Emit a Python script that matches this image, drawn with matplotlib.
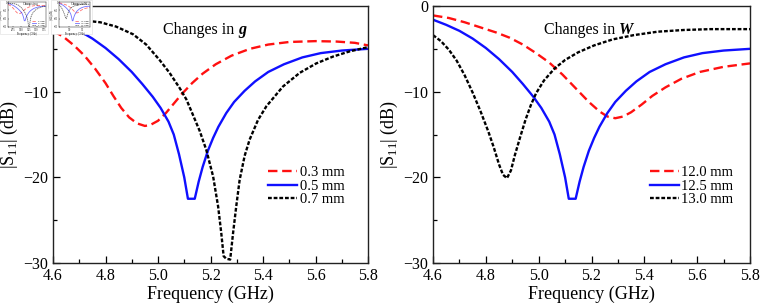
import matplotlib
matplotlib.use("Agg")
import matplotlib.pyplot as plt
from matplotlib.ticker import MultipleLocator
from matplotlib.patches import Rectangle

plt.rcParams['font.family'] = ['Liberation Serif', 'DejaVu Serif']
plt.rcParams['mathtext.fontset'] = 'custom'
plt.rcParams['mathtext.rm'] = 'Liberation Serif'

# ---- data ----
# left panel: changes in g
g_red_f = [4.60, 4.64, 4.68, 4.72, 4.76, 4.80, 4.83, 4.86, 4.89, 4.92, 4.95, 4.97, 5.00,
           5.03, 5.06, 5.09, 5.13, 5.17, 5.22, 5.28, 5.35, 5.42, 5.50, 5.60, 5.68, 5.75, 5.80]
g_red_s = [-2.9, -3.6, -4.6, -5.8, -7.3, -9.0, -10.5, -11.9, -13.0, -13.7, -14.0, -13.9, -13.4,
           -12.5, -11.4, -10.3, -9.0, -7.9, -6.8, -5.8, -5.0, -4.5, -4.2, -4.1, -4.15, -4.3, -4.6]

blue_f = [4.60, 4.65, 4.70, 4.75, 4.80, 4.85, 4.90, 4.94, 4.98, 5.01, 5.04, 5.06, 5.08, 5.10,
          5.114, 5.14, 5.155, 5.17, 5.19, 5.21, 5.23, 5.26, 5.29, 5.33, 5.37, 5.42, 5.48,
          5.55, 5.62, 5.70, 5.80]
blue_s = [-1.6, -2.2, -2.9, -3.8, -4.9, -6.2, -7.7, -9.1, -10.6, -11.9, -13.5, -15.0, -17.3, -20.0,
          -22.5, -22.5, -20.5, -18.8, -16.9, -15.4, -14.1, -12.5, -11.2, -9.9, -8.8, -7.7, -6.8,
          -6.0, -5.5, -5.2, -5.0]

g_blk_f = [4.60, 4.66, 4.72, 4.78, 4.84, 4.905, 4.955, 5.006, 5.044, 5.083, 5.108, 5.133,
           5.159, 5.184, 5.21, 5.229, 5.241, 5.25, 5.26, 5.275, 5.286, 5.298, 5.311, 5.33,
           5.349, 5.381, 5.413, 5.476, 5.54, 5.603, 5.667, 5.73, 5.80]
g_blk_s = [-1.5, -1.6, -1.7, -1.9, -2.4, -3.3, -4.5, -6.3, -7.8, -9.6, -10.9, -12.7,
           -14.6, -16.8, -19.9, -23.4, -26.5, -29.2, -29.5, -29.6, -26.5, -23.4, -20.3, -17.5,
           -15.6, -13.3, -11.7, -9.4, -7.8, -6.7, -5.9, -5.3, -4.8]

# right panel: changes in W
w_red_f = [4.60, 4.66, 4.72, 4.78, 4.84, 4.89, 4.94, 4.99, 5.04, 5.09, 5.14, 5.19, 5.23,
           5.26, 5.29, 5.32, 5.35, 5.39, 5.43, 5.48, 5.54, 5.61, 5.70, 5.80]
w_red_s = [-1.1, -1.4, -1.9, -2.5, -3.1, -3.7, -4.5, -5.5, -6.6, -8.0, -9.6, -11.2, -12.3,
           -12.9, -13.1, -12.9, -12.4, -11.5, -10.5, -9.5, -8.5, -7.7, -7.1, -6.7]

w_blk_f = [4.60, 4.63, 4.66, 4.69, 4.72, 4.75, 4.78, 4.81, 4.83, 4.85, 4.865, 4.88, 4.895,
           4.91, 4.93, 4.95, 4.97, 4.99, 5.02, 5.06, 5.10, 5.15, 5.21, 5.28, 5.36, 5.45,
           5.55, 5.65, 5.80]
w_blk_s = [-3.4, -4.1, -5.1, -6.4, -8.1, -10.1, -12.3, -14.7, -16.5, -18.5, -19.7, -20.1, -19.2,
           -17.4, -15.3, -13.3, -11.6, -10.2, -8.7, -7.3, -6.3, -5.4, -4.6, -3.9, -3.4, -3.0,
           -2.8, -2.7, -2.7]

g_labels = ['0.3 mm', '0.5 mm', '0.7 mm']
w_labels = ['12.0 mm', '12.5 mm', '13.0 mm']

panels = [
    ('g', [(g_red_f, g_red_s), (blue_f, blue_s), (g_blk_f, g_blk_s)], g_labels),
    ('W', [(w_red_f, w_red_s), (blue_f, blue_s), (w_blk_f, w_blk_s)], w_labels),
]

styles = [
    dict(color='#ff1010', lw=1.7, dashes=(4, 2)),
    dict(color='#1010ff', lw=1.7),
    dict(color='black', lw=1.7, dashes=(1.6, 0.8)),
]


def draw_curves(ax, series, labels, scale=1.0):
    for (f, s), st, lab in zip(series, styles, labels):
        st = dict(st)
        st['lw'] = st['lw'] * scale
        ax.plot(f, s, label=lab, solid_joinstyle='round', dash_joinstyle='round', **st)


W, H = 761, 305
fig = plt.figure(figsize=(W / 100, H / 100), dpi=100)

axes_px = [(53, 368), (433, 750)]
top_px, bot_px = 6, 263

for (name, series, labels), (x0, x1) in zip(panels, axes_px):
    ax = fig.add_axes([x0 / W, 1 - bot_px / H, (x1 - x0) / W, (bot_px - top_px) / H])
    draw_curves(ax, series, labels)
    ax.set_xlim(4.6, 5.8)
    ax.set_ylim(-30, 0)
    ax.xaxis.set_major_locator(MultipleLocator(0.2))
    ax.xaxis.set_minor_locator(MultipleLocator(0.1))
    ax.yaxis.set_major_locator(MultipleLocator(10))
    ax.yaxis.set_minor_locator(MultipleLocator(5))
    ax.xaxis.set_major_formatter(plt.FormatStrFormatter('%.1f'))
    ax.tick_params(which='both', direction='in', top=False, right=False, labelsize=11.5)
    ax.tick_params(which='major', length=5, width=0.9)
    ax.tick_params(which='minor', length=3, width=0.9)
    for sp in ax.spines.values():
        sp.set_linewidth(1.0)
        sp.set_color('#222222')
    ax.set_xlabel('Frequency (GHz)', fontsize=13, labelpad=1)
    ax.set_ylabel(r'|S$_{11}$| (dB)', fontsize=13, labelpad=2)

    t = ax.text(0.35, 0.89, 'Changes in ', transform=ax.transAxes, fontsize=11.5,
                ha='left', va='baseline')
    ax.annotate(name, xy=(1, 0), xycoords=t, va='bottom', ha='left',
                fontsize=11.5, fontstyle='italic', fontweight='bold')

    ax.legend(loc='upper left', bbox_to_anchor=(0.66, 0.405), frameon=False, fontsize=10.5,
              handlelength=2.0, handletextpad=0.15, labelspacing=0.0, borderpad=0)

# small thumbnails in the top-left corner
thumbs = [(0, 48, panels[0]), (51, 92, panels[1])]
for x0, x1, (name, series, labels) in thumbs:
    fig.patches.append(Rectangle((x0 / W, 1 - 34 / H), (x1 - x0) / W, 34 / H,
                                 transform=fig.transFigure, facecolor='white',
                                 edgecolor='#dddddd', lw=0.4, zorder=10))
    mini = fig.add_axes([(x0 + 8) / W, 1 - 27 / H, (x1 - x0 - 10) / W, 25 / H], zorder=11)
    draw_curves(mini, series, labels, scale=0.35)
    for ln in mini.lines:
        ln.set_alpha(0.6)
    mini.set_xlim(4.6, 5.8)
    mini.set_ylim(-30, 0)
    mini.tick_params(labelsize=1.8, length=0.8, width=0.3, pad=0.5, direction='in')
    for sp in mini.spines.values():
        sp.set_linewidth(0.3)
    mini.set_xlabel('Frequency (GHz)', fontsize=2, labelpad=0.5)
    mini.set_ylabel('|S11| (dB)', fontsize=1.8, labelpad=0.3)
    mini.text(0.4, 0.88, 'Changes in ' + name, transform=mini.transAxes, fontsize=2)
    mini.legend(loc='lower right', fontsize=1.5, frameon=False, handlelength=2,
                borderpad=0.2, labelspacing=0.1)

fig.savefig('out.png', dpi=100)
